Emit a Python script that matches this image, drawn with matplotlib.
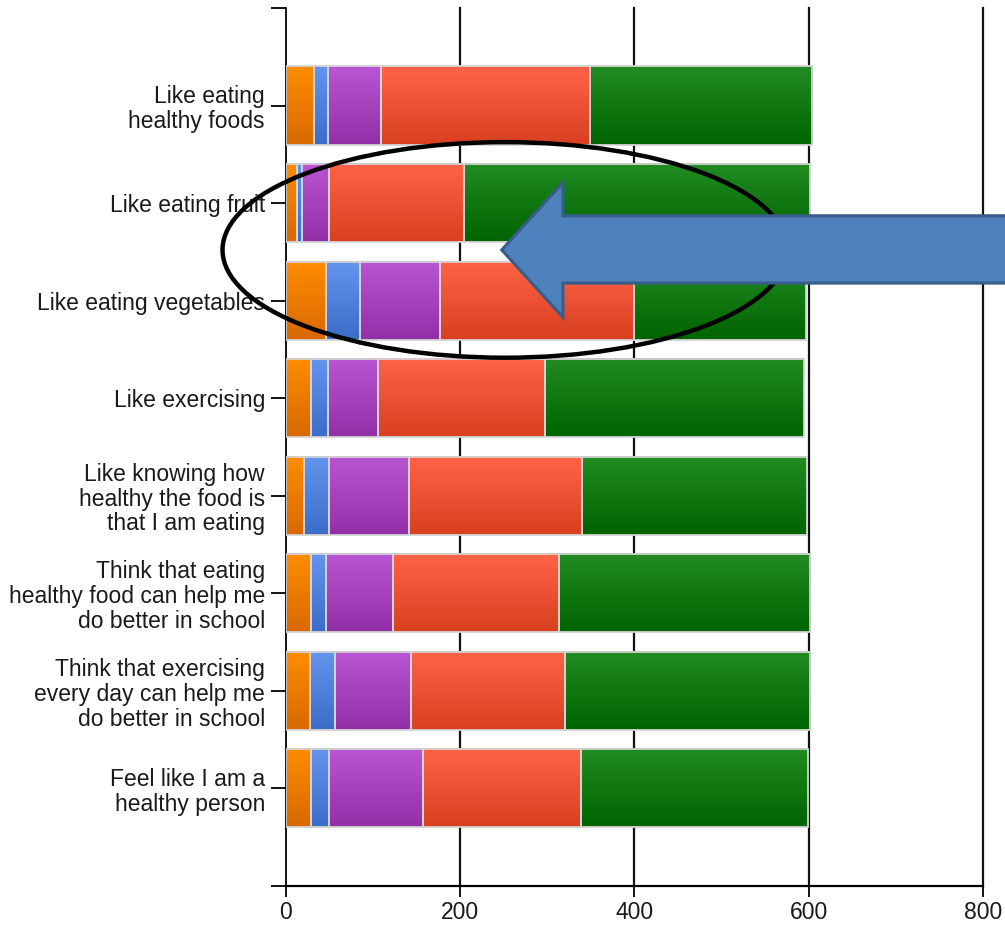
import numpy as np
import matplotlib
matplotlib.use("Agg")
import matplotlib.pyplot as plt
from matplotlib.patches import Ellipse, Polygon
from matplotlib.colors import to_rgb

plt.rcParams["font.family"] = ["Liberation Sans", "DejaVu Sans"]

# =============================
# DATA
# =============================
categories = [
    "Like eating\nhealthy foods",
    "Like eating fruit",
    "Like eating vegetables",
    "Like exercising",
    "Like knowing how\nhealthy the food is\nthat I am eating",
    "Think that eating\nhealthy food can help me\ndo better in school",
    "Think that exercising\nevery day can help me\ndo better in school",
    "Feel like I am a\nhealthy person",
]

orange = [32, 13, 46, 29, 21, 29, 28, 29]
blue = [17, 6, 39, 19, 29, 17, 29, 21]
purple = [60, 31, 92, 58, 91, 77, 87, 107]
red = [240, 155, 223, 192, 199, 190, 176, 182]
green = [255, 396, 197, 297, 258, 289, 282, 260]

series = [orange, blue, purple, red, green]

# top / bottom colour of each gradient
gradients = [
    ("#FF8C00", "#D96900"),
    ("#6495ED", "#3B6CC8"),
    ("#BA55D3", "#932FA6"),
    ("#FF6347", "#D8401F"),
    ("#228B22", "#006400"),
]

x_ticks = [0, 200, 400, 600, 800]

# =============================
# FIGURE
# =============================
fig = plt.figure(figsize=(10.05, 9.26), dpi=100)
ax = fig.add_axes([0.2843, 0.0432, 0.6939, 0.9482])

y = np.arange(1, len(categories) + 1)
left = np.zeros(len(categories))


def gradient_image(top, bottom, n=64):
    t = np.linspace(0, 1, n)[:, None]
    c0 = np.array(to_rgb(top))
    c1 = np.array(to_rgb(bottom))
    return (c0 * (1 - t) + c1 * t)[:, None, :]


for vals, (c_top, c_bot) in zip(series, gradients):
    bars = ax.barh(y, vals, left=left, height=0.8, facecolor="none",
                   edgecolor="#d4d4d4", linewidth=1.3, zorder=3)
    img = gradient_image(c_top, c_bot)
    for b in bars:
        x0, y0 = b.get_x(), b.get_y()
        w, h = b.get_width(), b.get_height()
        ax.imshow(img, extent=(x0, x0 + w, y0 + h, y0), aspect="auto",
                  origin="upper", zorder=2, interpolation="bilinear")
    left = left + np.array(vals)

# vertical grid lines
for xv in x_ticks[1:]:
    ax.axvline(xv, color="#111111", linewidth=1.6, zorder=1, clip_on=False)

ax.set_xlim(0, 800)
ax.set_ylim(9, 0)

ax.set_xticks(x_ticks)
ax.set_yticks(y)
ax.set_yticklabels(categories, fontsize=16.5, color="#1a1a1a",
                   linespacing=1.1)
ax.set_yticks([0, 9], minor=True)
ax.tick_params(axis="y", which="both", length=11, width=1.3, pad=4)
ax.tick_params(axis="x", length=8, width=1.3, pad=3, labelsize=16.5,
               labelcolor="#1a1a1a")

for s in ["top", "right"]:
    ax.spines[s].set_visible(False)
ax.spines["left"].set_linewidth(1.3)
ax.spines["bottom"].set_linewidth(1.6)

# =============================
# HIGHLIGHT
# =============================
ring = Ellipse((251.5, 2.48), 648, 2.21, fill=False, edgecolor="black",
               linewidth=3.2, zorder=6, clip_on=False)
ax.add_patch(ring)

arrow_pts = [
    (247.8, 2.48),
    (318.0, 1.79),
    (318.0, 2.13),
    (840.0, 2.13),
    (840.0, 2.82),
    (318.0, 2.82),
    (318.0, 3.17),
]
arrow = Polygon(arrow_pts, closed=True, facecolor="#4F81BD",
                edgecolor="#385D8A", linewidth=2.2, zorder=7, clip_on=False,
                joinstyle="miter")
ax.add_patch(arrow)

plt.savefig("out.png", dpi=100)
plt.close()
